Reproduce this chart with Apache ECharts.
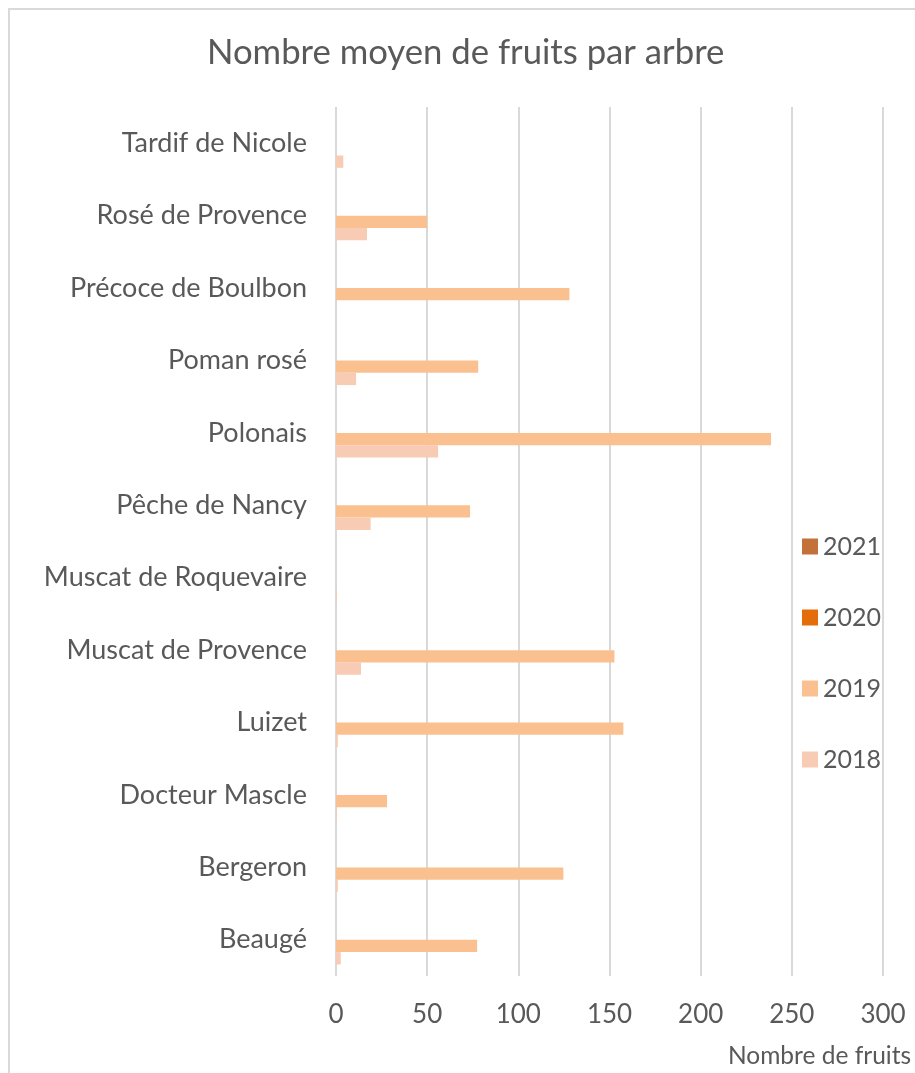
<!DOCTYPE html>
<html>
<head>
<meta charset="utf-8">
<script src="https://cdn.jsdelivr.net/npm/echarts@6/dist/echarts.min.js"></script>
<style>
  html, body { margin: 0; padding: 0; background: #fff; }
  #chart { width: 915px; height: 1073px; }
</style>
</head>
<body>
<div id="chart"></div>
<script>
// categories, from bottom to top as on the axis
var varietes = ['Beaugé', 'Bergeron', 'Docteur Mascle', 'Luizet', 'Muscat de Provence',
  'Muscat de Roquevaire', 'Pêche de Nancy', 'Polonais', 'Poman rosé',
  'Précoce de Boulbon', 'Rosé de Provence', 'Tardif de Nicole'];

// legend order (top to bottom), also series order: ECharts puts the first one on top
var annees = ['2021', '2020', '2019', '2018'];
var couleurs = ['#C4703A', '#E46C0A', '#FAC08F', '#F8CBB4'];

var v2018 = [2.6, 1, 0.5, 1, 13.7, 0.5, 19, 56, 11, 0, 17, 4];
var v2019 = [77.4, 124.7, 28, 157.6, 152.7, 0, 73.5, 238.6, 78, 128, 50, 0];
var v2020 = [0, 0, 0, 0, 0, 0, 0, 0, 0, 0, 0, 0];
var v2021 = [0, 0, 0, 0, 0, 0, 0, 0, 0, 0, 0, 0];

var xTicks = [0, 50, 100, 150, 200, 250, 300];

var valeurs = [v2021, v2020, v2019, v2018];
var police = 'Lato';

var chart = echarts.init(document.getElementById('chart'));

var series = annees.map(function (a, i) {
  return {
    name: a,
    type: 'bar',
    data: valeurs[i],
    barGap: '0%',
    barCategoryGap: '32%',
    itemStyle: { color: couleurs[i] }
  };
});

chart.setOption({
  animation: false,
  backgroundColor: '#fff',
  textStyle: { fontFamily: police },
  graphic: [{
    type: 'rect',
    shape: { x: 9, y: 9, width: 1000, height: 1200 },
    style: { fill: 'none', stroke: '#D9D9D9', lineWidth: 2 },
    silent: true
  }],
  title: [{
    text: 'Nombre moyen de fruits par arbre',
    left: 202,
    top: 30,
    textStyle: { fontFamily: police, fontSize: 34.7, fontWeight: 'normal', color: '#595959' }
  }, {
    text: 'Nombre de fruits',
    left: 723,
    top: 1039,
    textStyle: { fontFamily: police, fontSize: 24.5, fontWeight: 'normal', color: '#595959' }
  }],
  legend: {
    orient: 'vertical',
    left: 797,
    top: 529,
    data: annees,
    itemWidth: 16,
    itemHeight: 16,
    itemGap: 46,
    icon: 'rect',
    textStyle: { fontFamily: police, fontSize: 25, color: '#595959', lineHeight: 24 }
  },
  grid: { left: 336, right: 32, top: 107, bottom: 97, containLabel: false },
  xAxis: {
    type: 'value',
    min: xTicks[0],
    max: xTicks[xTicks.length - 1],
    interval: 50,
    axisLine: { show: false },
    axisTick: { show: false },
    axisLabel: { fontSize: 26, color: '#595959', margin: 26, fontFamily: police },
    splitLine: { lineStyle: { color: '#D9D9D9', width: 2 } }
  },
  yAxis: {
    type: 'category',
    data: varietes,
    axisLine: { show: false },
    axisTick: { show: false },
    axisLabel: { fontSize: 27, color: '#595959', margin: 29, fontFamily: police }
  },
  series: series
});
</script>
</body>
</html>
